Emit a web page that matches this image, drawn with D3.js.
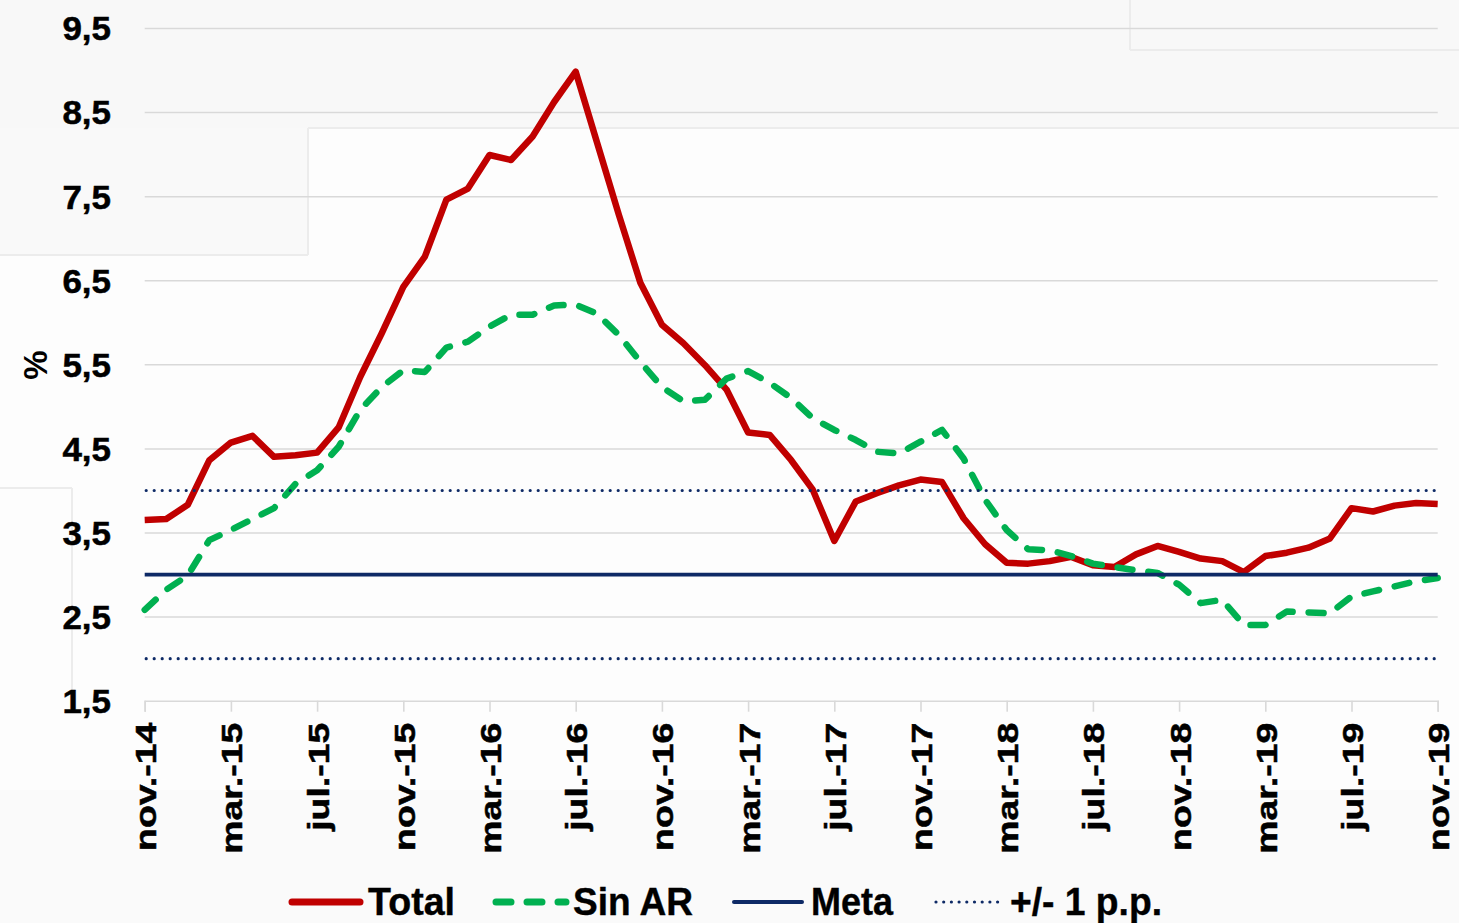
<!DOCTYPE html>
<html>
<head>
<meta charset="utf-8">
<script src="https://cdn.jsdelivr.net/npm/d3@7"></script>
<style>
  html, body { margin: 0; padding: 0; background: #fdfdfd; }
  svg { display: block; font-family: "Liberation Sans", Arial, sans-serif; font-weight: bold; }
</style>
</head>
<body>
<svg id="chart" width="1459" height="923"></svg>
<script>
// ---- Data ----
const categories = [
  "nov.-14","dic.-14","ene.-15","feb.-15","mar.-15","abr.-15","may.-15","jun.-15","jul.-15","ago.-15","sep.-15","oct.-15",
  "nov.-15","dic.-15","ene.-16","feb.-16","mar.-16","abr.-16","may.-16","jun.-16","jul.-16","ago.-16","sep.-16","oct.-16",
  "nov.-16","dic.-16","ene.-17","feb.-17","mar.-17","abr.-17","may.-17","jun.-17","jul.-17","ago.-17","sep.-17","oct.-17",
  "nov.-17","dic.-17","ene.-18","feb.-18","mar.-18","abr.-18","may.-18","jun.-18","jul.-18","ago.-18","sep.-18","oct.-18",
  "nov.-18","dic.-18","ene.-19","feb.-19","mar.-19","abr.-19","may.-19","jun.-19","jul.-19","ago.-19","sep.-19","oct.-19",
  "nov.-19"
];
const total = [3.65,3.66,3.83,4.36,4.57,4.65,4.40,4.42,4.45,4.75,5.35,5.87,6.42,6.78,7.46,7.59,7.99,7.93,8.21,8.62,
  8.98,8.13,7.28,6.47,5.97,5.75,5.49,5.20,4.69,4.66,4.36,4.01,3.40,3.87,3.97,4.06,4.13,4.10,3.67,3.36,
  3.14,3.13,3.16,3.21,3.11,3.09,3.24,3.34,3.27,3.19,3.16,3.03,3.22,3.26,3.32,3.43,3.79,3.75,3.82,3.85,3.84];
const sinAR = [2.58,2.82,2.99,3.41,3.53,3.66,3.79,4.08,4.24,4.52,4.96,5.23,5.43,5.41,5.70,5.77,5.95,6.09,6.09,6.20,
  6.21,6.10,5.85,5.53,5.23,5.06,5.08,5.33,5.42,5.28,5.10,4.86,4.72,4.60,4.46,4.44,4.58,4.72,4.38,3.89,
  3.53,3.30,3.29,3.22,3.13,3.09,3.05,3.02,2.88,2.66,2.70,2.40,2.40,2.56,2.55,2.54,2.74,2.80,2.86,2.92,2.96];
const meta = 3.0;
const bandLow = 2.0;
const bandHigh = 4.0;
const xTickCategories = ["nov.-14","mar.-15","jul.-15","nov.-15","mar.-16","jul.-16","nov.-16","mar.-17","jul.-17",
  "nov.-17","mar.-18","jul.-18","nov.-18","mar.-19","jul.-19","nov.-19"];
const yTicks = [1.5,2.5,3.5,4.5,5.5,6.5,7.5,8.5,9.5];
const yTickLabels = ["1,5","2,5","3,5","4,5","5,5","6,5","7,5","8,5","9,5"];
const legendLabels = ["Total","Sin AR","Meta","+/- 1 p.p."];

// ---- Layout ----
const svg = d3.select("#chart");
const X0 = 144.7, X1 = 1437.7, YT = 28, YB = 700.7;
const x = d3.scalePoint().domain(categories).range([X0, X1]);
const y = d3.scaleLinear().domain([1.5, 9.5]).range([YB, YT]);

const C_RED = "#C00000", C_GREEN = "#00B050", C_NAVY = "#0E2A66", C_GRID = "#d9d9d9";
const FONT = '"Liberation Sans", Arial, sans-serif';

// faint background artefacts
const bg = svg.append("g");
bg.append("rect").attr("x",0).attr("y",0).attr("width",1459).attr("height",128).attr("fill","#f8f8f8");
bg.append("rect").attr("x",0).attr("y",128).attr("width",308).attr("height",127).attr("fill","#f9f9f9");
bg.append("rect").attr("x",0).attr("y",790).attr("width",1459).attr("height",133).attr("fill","#fafafa");
const bgl = [[308,128,308,255],[0,255,308,255],[308,128,1459,128],[1130,0,1130,50],[1130,50,1459,50],[0,488,72,488],[72,488,72,690]];
bg.selectAll("line").data(bgl).join("line")
  .attr("x1",d=>d[0]).attr("y1",d=>d[1]).attr("x2",d=>d[2]).attr("y2",d=>d[3])
  .attr("stroke","#ececec").attr("stroke-width",2);

// gridlines
const grid = svg.append("g").attr("transform", `translate(${X0},0)`)
  .call(d3.axisLeft(y).tickValues(yTicks.slice(1)).tickSize(-(X1 - X0)).tickFormat(""));
grid.select(".domain").remove();
grid.selectAll("line").attr("stroke", C_GRID).attr("stroke-width", 1.5);

// y labels
const yAxis = svg.append("g").attr("transform", `translate(111,0)`)
  .call(d3.axisLeft(y).tickValues(yTicks).tickSize(0).tickPadding(0)
    .tickFormat((d,i) => yTickLabels[i]));
yAxis.select(".domain").remove();
yAxis.selectAll("text").attr("font-size", 33).attr("font-weight","bold")
  .attr("font-family", FONT).attr("fill", "#000").attr("dy","0.36em")
  .attr("text-anchor","end").attr("stroke","#000").attr("stroke-width",0.5);
yAxis.selectAll("text").each(function(){
  const L = this.getComputedTextLength();
  d3.select(this).attr("textLength", L*1.06).attr("lengthAdjust","spacingAndGlyphs");
});

// y title
svg.append("text").attr("transform","translate(35,365) rotate(-90)")
  .attr("text-anchor","middle").attr("dy","0.35em").attr("font-size",33).text("%");

// x axis
const xAxis = svg.append("g").attr("transform", `translate(0,${YB})`)
  .call(d3.axisBottom(x).tickValues(xTickCategories).tickSize(11).tickPadding(0));
xAxis.select(".domain").attr("stroke", C_GRID).attr("stroke-width", 1.6);
xAxis.selectAll("line").attr("stroke", C_GRID).attr("stroke-width", 1.6);
xAxis.selectAll("text")
  .attr("font-size", 29).attr("font-weight","bold").attr("fill","#000")
  .attr("font-family", FONT)
  .attr("text-anchor","end")
  .attr("transform","rotate(-90)")
  .attr("x", -22).attr("y", 0).attr("dy","0.38em")
  .attr("stroke","#000").attr("stroke-width",0.5);
xAxis.selectAll("text").each(function(){
  const L = this.getComputedTextLength();
  d3.select(this).attr("textLength", L*1.29).attr("lengthAdjust","spacingAndGlyphs");
});

// series
const line = d3.line().x((d,i) => x(categories[i])).y(d => y(d));
svg.append("path").datum(total).attr("d", line)
  .attr("fill","none").attr("stroke", C_RED).attr("stroke-width", 6.5)
  .attr("stroke-linejoin","round");
svg.append("path").datum(sinAR).attr("d", line)
  .attr("fill","none").attr("stroke", C_GREEN).attr("stroke-width", 6.5)
  .attr("stroke-dasharray","15,16").attr("stroke-linecap","round").attr("stroke-linejoin","round");

// meta and band
svg.append("line").attr("x1", X0).attr("x2", X1).attr("y1", y(meta)).attr("y2", y(meta))
  .attr("stroke", C_NAVY).attr("stroke-width", 3.8);
[bandLow, bandHigh].forEach(v => {
  svg.append("line").attr("x1", X0 + 1.5).attr("x2", X1).attr("y1", y(v)).attr("y2", y(v))
    .attr("stroke", C_NAVY).attr("stroke-width", 3.2)
    .attr("stroke-dasharray","0,8").attr("stroke-linecap","round");
});

// legend
const LY = 902;
const lg = svg.append("g");
const legendItems = [
  {x1:292, x2:360, stroke:C_RED, w:7, dash:null, tx:368, tl:87},
  {x1:496, x2:566, stroke:C_GREEN, w:7, dash:"15,16", tx:573, tl:120},
  {x1:734, x2:802, stroke:C_NAVY, w:4, dash:null, tx:811, tl:82},
  {x1:936, x2:998, stroke:C_NAVY, w:3.2, dash:"0,7.7", tx:1010, tl:152}
];
legendItems.forEach((it, i) => {
  const l = lg.append("line").attr("x1",it.x1).attr("x2",it.x2).attr("y1",LY).attr("y2",LY)
    .attr("stroke",it.stroke).attr("stroke-width",it.w).attr("stroke-linecap","round");
  if (it.dash) l.attr("stroke-dasharray", it.dash);
  lg.append("text").attr("x", it.tx).attr("y", 915).attr("font-size", 38)
    .attr("textLength", it.tl).attr("lengthAdjust","spacingAndGlyphs")
    .attr("fill","#000").attr("stroke","#000").attr("stroke-width",0.4).text(legendLabels[i]);
});
</script>
</body>
</html>
